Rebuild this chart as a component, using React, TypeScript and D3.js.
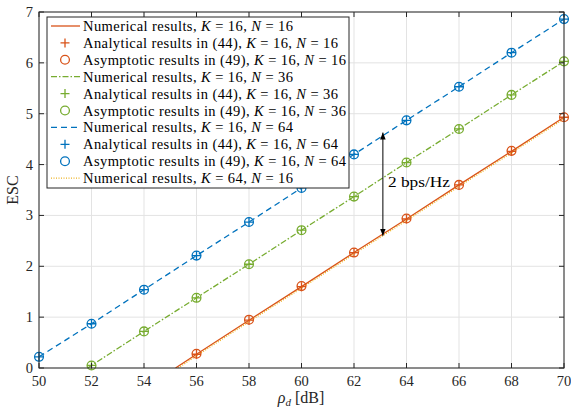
import React from "react";
import * as d3 from "d3";

const W = 571, H = 409;
const xTicks = [50, 52, 54, 56, 58, 60, 62, 64, 66, 68, 70];
const yTicks = [0, 1, 2, 3, 4, 5, 6, 7];

// Numerical results (lines)
const numK16N16: [number, number][] = [[55.2, 0], [56, 0.27], [58, 0.94], [60, 1.6], [62, 2.27], [64, 2.93], [66, 3.6], [68, 4.26], [70, 4.93]];
const numK16N36: [number, number][] = [[51.85, 0], [52, 0.05], [54, 0.72], [56, 1.38], [58, 2.04], [60, 2.71], [62, 3.37], [64, 4.04], [66, 4.7], [68, 5.37], [70, 6.03]];
const numK16N64: [number, number][] = [[50, 0.22], [52, 0.87], [54, 1.54], [56, 2.21], [58, 2.87], [60, 3.54], [62, 4.2], [64, 4.87], [66, 5.53], [68, 6.2], [70, 6.86]];
const numK64N16: [number, number][] = [[55.3, 0], [56, 0.24], [58, 0.91], [60, 1.57], [62, 2.24], [64, 2.9], [66, 3.57], [68, 4.23], [70, 4.9]];

// Analytical (44) and asymptotic (49) results (markers)
const anaK16N16: [number, number][] = [[56, 0.27], [58, 0.94], [60, 1.6], [62, 2.27], [64, 2.93], [66, 3.6], [68, 4.26], [70, 4.93]];
const asyK16N16: [number, number][] = [[56, 0.28], [58, 0.95], [60, 1.61], [62, 2.27], [64, 2.94], [66, 3.6], [68, 4.27], [70, 4.93]];
const anaK16N36: [number, number][] = [[52, 0.05], [54, 0.72], [56, 1.38], [58, 2.04], [60, 2.71], [62, 3.37], [64, 4.04], [66, 4.7], [68, 5.37], [70, 6.03]];
const asyK16N36: [number, number][] = [[52, 0.05], [54, 0.72], [56, 1.38], [58, 2.04], [60, 2.71], [62, 3.37], [64, 4.04], [66, 4.7], [68, 5.37], [70, 6.03]];
const anaK16N64: [number, number][] = [[50, 0.22], [52, 0.87], [54, 1.54], [56, 2.21], [58, 2.87], [60, 3.54], [62, 4.2], [64, 4.87], [66, 5.53], [68, 6.2], [70, 6.86]];
const asyK16N64: [number, number][] = [[50, 0.22], [52, 0.87], [54, 1.54], [56, 2.21], [58, 2.87], [60, 3.54], [62, 4.2], [64, 4.87], [66, 5.53], [68, 6.2], [70, 6.86]];

const arrowX = 63.1;
const arrowY = [4.63, 2.6];

const ORANGE = "#D95319", GREEN = "#77AC30", BLUE = "#0072BD", YELLOW = "#EDB120";
const FONT = "'Liberation Serif', 'DejaVu Serif', serif";

const x = d3.scaleLinear().domain([50, 70]).range([39, 564]);
const y = d3.scaleLinear().domain([0, 7]).range([368, 12]);
const line = d3.line<[number, number]>().x(d => x(d[0])).y(d => y(d[1]));

type Kind = "line" | "plus" | "circle";
interface Entry { kind: Kind; color: string; dash?: string; pre: string; K: number; N: number; len: number; }
const legend: Entry[] = [
  { kind: "line", color: ORANGE, pre: "Numerical results, ", K: 16, N: 16, len: 210 },
  { kind: "plus", color: ORANGE, pre: "Analytical results in (44), ", K: 16, N: 16, len: 255 },
  { kind: "circle", color: ORANGE, pre: "Asymptotic results in (49), ", K: 16, N: 16, len: 263 },
  { kind: "line", color: GREEN, dash: "6,2,1.5,2", pre: "Numerical results, ", K: 16, N: 36, len: 210 },
  { kind: "plus", color: GREEN, pre: "Analytical results in (44), ", K: 16, N: 36, len: 255 },
  { kind: "circle", color: GREEN, pre: "Asymptotic results in (49), ", K: 16, N: 36, len: 263 },
  { kind: "line", color: BLUE, dash: "6,4", pre: "Numerical results, ", K: 16, N: 64, len: 210 },
  { kind: "plus", color: BLUE, pre: "Analytical results in (44), ", K: 16, N: 64, len: 255 },
  { kind: "circle", color: BLUE, pre: "Asymptotic results in (49), ", K: 16, N: 64, len: 263 },
  { kind: "line", color: YELLOW, dash: "1,1.5", pre: "Numerical results, ", K: 64, N: 16, len: 210 },
];

const Plus = ({ cx, cy, c }: { cx: number; cy: number; c: string }) => (
  <path d={`M${cx - 4.5},${cy}H${cx + 4.5}M${cx},${cy - 4.5}V${cy + 4.5}`} stroke={c} strokeWidth={1.3} fill="none" />
);
const Circ = ({ cx, cy, c }: { cx: number; cy: number; c: string }) => (
  <circle cx={cx} cy={cy} r={4.4} stroke={c} strokeWidth={1.3} fill="none" />
);

export default function App() {
  const x0 = 39, x1 = 564, y0 = 368, y1 = 12;
  const lg = { x: 47, y: 17, w: 302, h: 171 };
  const rowH = 16.9;
  return (
    <div style={{ position: "fixed", left: 0, top: 0 }}>
      <svg width={W} height={H} style={{ display: "block", background: "#fff" }} fontFamily={FONT}>
        <defs>
          <clipPath id="clip"><rect x={x0} y={y1} width={x1 - x0} height={y0 - y1} /></clipPath>
          <marker id="ah" viewBox="0 0 10 10" refX="10" refY="5" markerWidth="7" markerHeight="7" orient="auto-start-reverse">
            <path d="M0,1L10,5L0,9Z" fill="#000" />
          </marker>
        </defs>
        {/* grid */}
        {xTicks.map(t => <line key={"gx" + t} x1={x(t)} x2={x(t)} y1={y0} y2={y1} stroke="#e3e3e3" strokeWidth={1} />)}
        {yTicks.map(t => <line key={"gy" + t} x1={x0} x2={x1} y1={y(t)} y2={y(t)} stroke="#e3e3e3" strokeWidth={1} />)}
        {/* series */}
        <g clipPath="url(#clip)" fill="none">
          <path d={line(numK16N16) || ""} stroke={ORANGE} strokeWidth={1.3} />
          <path d={line(numK64N16) || ""} stroke={YELLOW} strokeWidth={1.3} strokeDasharray="1,1.5" />
          <path d={line(numK16N36) || ""} stroke={GREEN} strokeWidth={1.3} strokeDasharray="6,2,1.5,2" />
          <path d={line(numK16N64) || ""} stroke={BLUE} strokeWidth={1.3} strokeDasharray="6,4" />
        </g>
        <g>
          {anaK16N16.map((d, i) => <Plus key={"a1" + i} cx={x(d[0])} cy={y(d[1])} c={ORANGE} />)}
          {asyK16N16.map((d, i) => <Circ key={"c1" + i} cx={x(d[0])} cy={y(d[1])} c={ORANGE} />)}
          {anaK16N36.map((d, i) => <Plus key={"a2" + i} cx={x(d[0])} cy={y(d[1])} c={GREEN} />)}
          {asyK16N36.map((d, i) => <Circ key={"c2" + i} cx={x(d[0])} cy={y(d[1])} c={GREEN} />)}
          {anaK16N64.map((d, i) => <Plus key={"a3" + i} cx={x(d[0])} cy={y(d[1])} c={BLUE} />)}
          {asyK16N64.map((d, i) => <Circ key={"c3" + i} cx={x(d[0])} cy={y(d[1])} c={BLUE} />)}
        </g>
        {/* axes box */}
        <rect x={x0} y={y1} width={x1 - x0} height={y0 - y1} fill="none" stroke="#262626" strokeWidth={1} />
        {xTicks.map(t => (
          <g key={"tx" + t}>
            <line x1={x(t)} x2={x(t)} y1={y0} y2={y0 - 5} stroke="#262626" />
            <line x1={x(t)} x2={x(t)} y1={y1} y2={y1 + 5} stroke="#262626" />
            <text x={x(t)} y={y0 + 18} textAnchor="middle" fontSize={14.5} fill="#262626">{t}</text>
          </g>
        ))}
        {yTicks.map(t => (
          <g key={"ty" + t}>
            <line x1={x0} x2={x0 + 5} y1={y(t)} y2={y(t)} stroke="#262626" />
            <line x1={x1} x2={x1 - 5} y1={y(t)} y2={y(t)} stroke="#262626" />
            <text x={x0 - 6} y={y(t) + 5} textAnchor="end" fontSize={14.5} fill="#262626">{t}</text>
          </g>
        ))}
        <text x={301} y={403} textAnchor="middle" fontSize={16} fill="#262626">
          <tspan fontStyle="italic">ρ</tspan><tspan fontStyle="italic" fontSize={11} dy={3}>d</tspan><tspan dy={-3}> [dB]</tspan>
        </text>
        <text transform={`translate(18,${(y0 + y1) / 2}) rotate(-90)`} textAnchor="middle" fontSize={16} fill="#262626">ESC</text>
        {/* annotation */}
        <line x1={x(arrowX)} x2={x(arrowX)} y1={y(arrowY[0])} y2={y(arrowY[1])} stroke="#000" strokeWidth={1} markerStart="url(#ah)" markerEnd="url(#ah)" />
        <text x={388} y={187} fontSize={14.5} fill="#000" textLength={62} lengthAdjust="spacingAndGlyphs">2 bps/Hz</text>
        {/* legend */}
        <rect x={lg.x} y={lg.y} width={lg.w} height={lg.h} fill="#fff" stroke="#262626" strokeWidth={1} />
        {legend.map((e, i) => {
          const cy = lg.y + 9 + rowH * i;
          return (
            <g key={"lg" + i}>
              {e.kind === "line" && <line x1={51} x2={80} y1={cy} y2={cy} stroke={e.color} strokeWidth={1.3} strokeDasharray={e.dash} />}
              {e.kind === "plus" && <Plus cx={65} cy={cy} c={e.color} />}
              {e.kind === "circle" && <Circ cx={65} cy={cy} c={e.color} />}
              <text x={83} y={cy + 5} fontSize={14.5} fill="#000" textLength={e.len} lengthAdjust="spacing">
                {e.pre}<tspan fontStyle="italic">K</tspan>{" = " + e.K + ", "}<tspan fontStyle="italic">N</tspan>{" = " + e.N}
              </text>
            </g>
          );
        })}
      </svg>
    </div>
  );
}
